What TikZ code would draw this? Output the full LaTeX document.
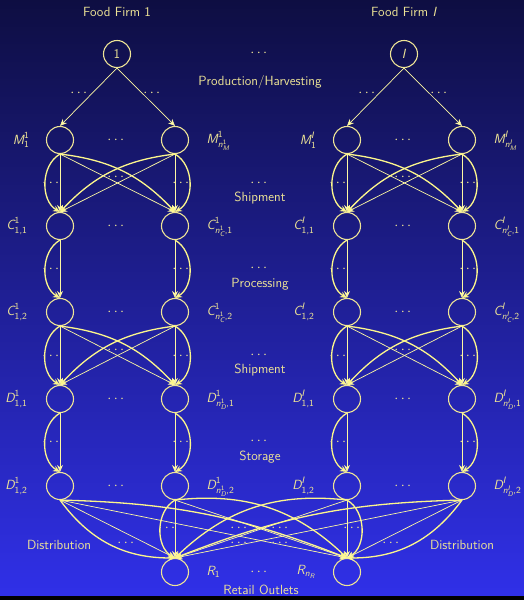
\documentclass[tikz,border=0pt]{standalone}
\usepackage{amsmath}
\usetikzlibrary{arrows.meta}
\definecolor{bgtop}{RGB}{14,14,66}
\definecolor{bgbot}{RGB}{48,48,232}
\definecolor{ink}{RGB}{238,228,150}
\definecolor{wire}{RGB}{252,246,140}
\newcommand{\sv}[1]{\text{\slshape #1}}
\newcommand{\su}[1]{\text{#1}}
\begin{document}
\begin{tikzpicture}[x=1pt,y=-1pt,
  every node/.style={text=ink,font=\fontsize{13.3}{16}\selectfont\sffamily},
  stage/.style={circle,draw=ink,line width=1.1pt,minimum size=27pt,inner sep=0pt},
  flow/.style={-{Stealth[length=7pt,width=6pt]},draw=wire!80!white,line width=0.7pt},
  curve/.style={-{Stealth[length=7pt,width=6pt]},draw=wire,line width=1.3pt}]
\useasboundingbox (0,0) rectangle (524,600);
\shade[top color=bgtop,bottom color=bgbot] (0,0) rectangle (524,596);
\fill[black] (0,596) rectangle (524,600);

% firms
\node (title1) at (117,12) {Food Firm 1};
\node (titleI) at (404,12) {Food Firm \textsl{I}};
\node[stage] (firm1) at (117,54) {1};
\node[stage] (firmI) at (404,54) {\textsl{I}};
\node (dFirm) at (260,53) {$\cdots$};
\node (prod) at (260,82) {Production/Harvesting};
\node (dP1) at (80,93) {$\cdots$};
\node (dP2) at (153,93) {$\cdots$};
\node (dP3) at (368,93) {$\cdots$};
\node (dP4) at (440,93) {$\cdots$};

% manufacturing plants
\node[stage] (m1a) at (60,140) {};
\node[stage] (m1b) at (175,140) {};
\node[stage] (mIa) at (347,140) {};
\node[stage] (mIb) at (462,140) {};
\node[anchor=east] (lm1a) at (33,140) {$\sv{M}^{\su{1}}_{\su{1}}$};
\node[anchor=west] (lm1b) at (203,141) {$\sv{M}^{\su{1}}_{\sv{n}^{\su{1}}_{\sv{M}}}$};
\node[anchor=east] (lmIa) at (320,140) {$\sv{M}^{\sv{I}}_{\su{1}}$};
\node[anchor=west] (lmIb) at (490,141) {$\sv{M}^{\sv{I}}_{\sv{n}^{\sv{I}}_{\sv{M}}}$};
\node (dm1) at (117,140) {$\cdots$};
\node (dmI) at (404,140) {$\cdots$};

\node (dShip1) at (260,183) {$\cdots$};
\node (ship1) at (260,198) {Shipment};

% storage facilities, before processing
\node[stage] (cx1a) at (60,226) {};
\node[stage] (cx1b) at (175,226) {};
\node[stage] (cxIa) at (347,226) {};
\node[stage] (cxIb) at (462,226) {};
\node[anchor=east] (lcx1a) at (31,226) {$\sv{C}^{\su{1}}_{\su{1,1}}$};
\node[anchor=west] (lcx1b) at (203,227) {$\sv{C}^{\su{1}}_{\sv{n}^{\su{1}}_{\sv{C}}\su{,1}}$};
\node[anchor=east] (lcxIa) at (318,226) {$\sv{C}^{\sv{I}}_{\su{1,1}}$};
\node[anchor=west] (lcxIb) at (490,227) {$\sv{C}^{\sv{I}}_{\sv{n}^{\sv{I}}_{\sv{C}}\su{,1}}$};
\node (dcx1) at (117,226) {$\cdots$};
\node (dcxI) at (404,226) {$\cdots$};

\node (dProc) at (260,268) {$\cdots$};
\node (proc) at (260,284) {Processing};

% storage facilities, after processing
\node[stage] (cy1a) at (60,312) {};
\node[stage] (cy1b) at (175,312) {};
\node[stage] (cyIa) at (347,312) {};
\node[stage] (cyIb) at (462,312) {};
\node[anchor=east] (lcy1a) at (31,312) {$\sv{C}^{\su{1}}_{\su{1,2}}$};
\node[anchor=west] (lcy1b) at (203,313) {$\sv{C}^{\su{1}}_{\sv{n}^{\su{1}}_{\sv{C}}\su{,2}}$};
\node[anchor=east] (lcyIa) at (318,312) {$\sv{C}^{\sv{I}}_{\su{1,2}}$};
\node[anchor=west] (lcyIb) at (490,313) {$\sv{C}^{\sv{I}}_{\sv{n}^{\sv{I}}_{\sv{C}}\su{,2}}$};
\node (dcy1) at (117,312) {$\cdots$};
\node (dcyI) at (404,312) {$\cdots$};

\node (dShip2) at (260,355) {$\cdots$};
\node (ship2) at (260,370) {Shipment};

% distribution centers
\node[stage] (dx1a) at (60,399) {};
\node[stage] (dx1b) at (175,399) {};
\node[stage] (dxIa) at (347,399) {};
\node[stage] (dxIb) at (462,399) {};
\node[anchor=east] (ldx1a) at (31,399) {$\sv{D}^{\su{1}}_{\su{1,1}}$};
\node[anchor=west] (ldx1b) at (203,400) {$\sv{D}^{\su{1}}_{\sv{n}^{\su{1}}_{\sv{D}}\su{,1}}$};
\node[anchor=east] (ldxIa) at (318,399) {$\sv{D}^{\sv{I}}_{\su{1,1}}$};
\node[anchor=west] (ldxIb) at (490,400) {$\sv{D}^{\sv{I}}_{\sv{n}^{\sv{I}}_{\sv{D}}\su{,1}}$};
\node (ddx1) at (117,399) {$\cdots$};
\node (ddxI) at (404,399) {$\cdots$};

\node (dStor) at (260,441) {$\cdots$};
\node (stor) at (260,457) {Storage};

\node[stage] (dy1a) at (60,486) {};
\node[stage] (dy1b) at (175,486) {};
\node[stage] (dyIa) at (347,486) {};
\node[stage] (dyIb) at (462,486) {};
\node[anchor=east] (ldy1a) at (31,486) {$\sv{D}^{\su{1}}_{\su{1,2}}$};
\node[anchor=west] (ldy1b) at (203,487) {$\sv{D}^{\su{1}}_{\sv{n}^{\su{1}}_{\sv{D}}\su{,2}}$};
\node[anchor=east] (ldyIa) at (318,486) {$\sv{D}^{\sv{I}}_{\su{1,2}}$};
\node[anchor=west] (ldyIb) at (490,487) {$\sv{D}^{\sv{I}}_{\sv{n}^{\sv{I}}_{\sv{D}}\su{,2}}$};
\node (ddy1) at (117,486) {$\cdots$};
\node (ddyI) at (404,486) {$\cdots$};

% retail outlets
\node[stage] (ret1) at (175,572) {};
\node[stage] (retn) at (347,572) {};
\node[anchor=west] (lret1) at (203,572) {$\sv{R}_{\su{1}}$};
\node[anchor=east] (lretn) at (319,572) {$\sv{R}_{\sv{n}_{\sv{R}}}$};
\node (dret) at (260,572) {$\cdots$};
\node (retail) at (261,590) {Retail Outlets};
\node (dist1) at (59,545) {Distribution};
\node (distI) at (462,545) {Distribution};

% links
\path (firm1.south) edge[flow] (m1a.north) edge[flow] (m1b.north);
\path (firmI.south) edge[flow] (mIa.north) edge[flow] (mIb.north);

\path (m1a.south) edge[flow] (cx1a.north) edge[curve,bend right=60] (cx1a.north)
                  edge[flow] (cx1b.north) edge[curve,bend left=20] (cx1b.north);
\path (m1b.south) edge[flow] (cx1b.north) edge[curve,bend left=60] (cx1b.north)
                  edge[flow] (cx1a.north) edge[curve,bend right=20] (cx1a.north);
\path (mIa.south) edge[flow] (cxIa.north) edge[curve,bend right=60] (cxIa.north)
                  edge[flow] (cxIb.north) edge[curve,bend left=20] (cxIb.north);
\path (mIb.south) edge[flow] (cxIb.north) edge[curve,bend left=60] (cxIb.north)
                  edge[flow] (cxIa.north) edge[curve,bend right=20] (cxIa.north);

\path (cx1a.south) edge[flow] (cy1a.north) edge[curve,bend right=60] (cy1a.north);
\path (cx1b.south) edge[flow] (cy1b.north) edge[curve,bend left=60] (cy1b.north);
\path (cxIa.south) edge[flow] (cyIa.north) edge[curve,bend right=60] (cyIa.north);
\path (cxIb.south) edge[flow] (cyIb.north) edge[curve,bend left=60] (cyIb.north);

\path (cy1a.south) edge[flow] (dx1a.north) edge[curve,bend right=60] (dx1a.north)
                   edge[flow] (dx1b.north) edge[curve,bend left=20] (dx1b.north);
\path (cy1b.south) edge[flow] (dx1b.north) edge[curve,bend left=60] (dx1b.north)
                   edge[flow] (dx1a.north) edge[curve,bend right=20] (dx1a.north);
\path (cyIa.south) edge[flow] (dxIa.north) edge[curve,bend right=60] (dxIa.north)
                   edge[flow] (dxIb.north) edge[curve,bend left=20] (dxIb.north);
\path (cyIb.south) edge[flow] (dxIb.north) edge[curve,bend left=60] (dxIb.north)
                   edge[flow] (dxIa.north) edge[curve,bend right=20] (dxIa.north);

\path (dx1a.south) edge[flow] (dy1a.north) edge[curve,bend right=60] (dy1a.north);
\path (dx1b.south) edge[flow] (dy1b.north) edge[curve,bend left=60] (dy1b.north);
\path (dxIa.south) edge[flow] (dyIa.north) edge[curve,bend right=60] (dyIa.north);
\path (dxIb.south) edge[flow] (dyIb.north) edge[curve,bend left=60] (dyIb.north);

\path (dy1a.south) edge[flow] (ret1.north) edge[curve,bend right=27] (ret1.north)
                   edge[flow] (retn.north) edge[curve,bend left=10] (retn.north);
\path (dy1b.south) edge[flow] (ret1.north) edge[curve,bend right=60] (ret1.north)
                   edge[flow] (retn.north) edge[curve,bend left=25] (retn.north);
\path (dyIa.south) edge[flow] (retn.north) edge[curve,bend left=60] (retn.north)
                   edge[flow] (ret1.north) edge[curve,bend right=25] (ret1.north);
\path (dyIb.south) edge[flow] (retn.north) edge[curve,bend left=27] (retn.north)
                   edge[flow] (ret1.north) edge[curve,bend right=10] (ret1.north);

% dots on the links
\node (ds1) at (52,183) {$\cdots$};
\node (ds2) at (117,177) {$\cdots$};
\node (ds3) at (182,183) {$\cdots$};
\node (ds4) at (339,183) {$\cdots$};
\node (ds5) at (404,177) {$\cdots$};
\node (ds6) at (469,183) {$\cdots$};
\node (dq1) at (52,269) {$\cdots$};
\node (dq2) at (182,269) {$\cdots$};
\node (dq3) at (339,269) {$\cdots$};
\node (dq4) at (469,269) {$\cdots$};
\node (dt1) at (52,356) {$\cdots$};
\node (dt2) at (117,350) {$\cdots$};
\node (dt3) at (182,356) {$\cdots$};
\node (dt4) at (339,356) {$\cdots$};
\node (dt5) at (404,350) {$\cdots$};
\node (dt6) at (469,356) {$\cdots$};
\node (du1) at (52,442) {$\cdots$};
\node (du2) at (182,442) {$\cdots$};
\node (du3) at (339,442) {$\cdots$};
\node (du4) at (469,442) {$\cdots$};
\node (dv1) at (168,528) {$\cdots$};
\node (dv2) at (240,528) {$\cdots$};
\node (dv3) at (281,528) {$\cdots$};
\node (dv4) at (353,528) {$\cdots$};
\node (dw1) at (127,543) {$\cdots$};
\node (dw2) at (240,543) {$\cdots$};
\node (dw3) at (281,543) {$\cdots$};
\node (dw4) at (392,543) {$\cdots$};
\end{tikzpicture}
\end{document}
